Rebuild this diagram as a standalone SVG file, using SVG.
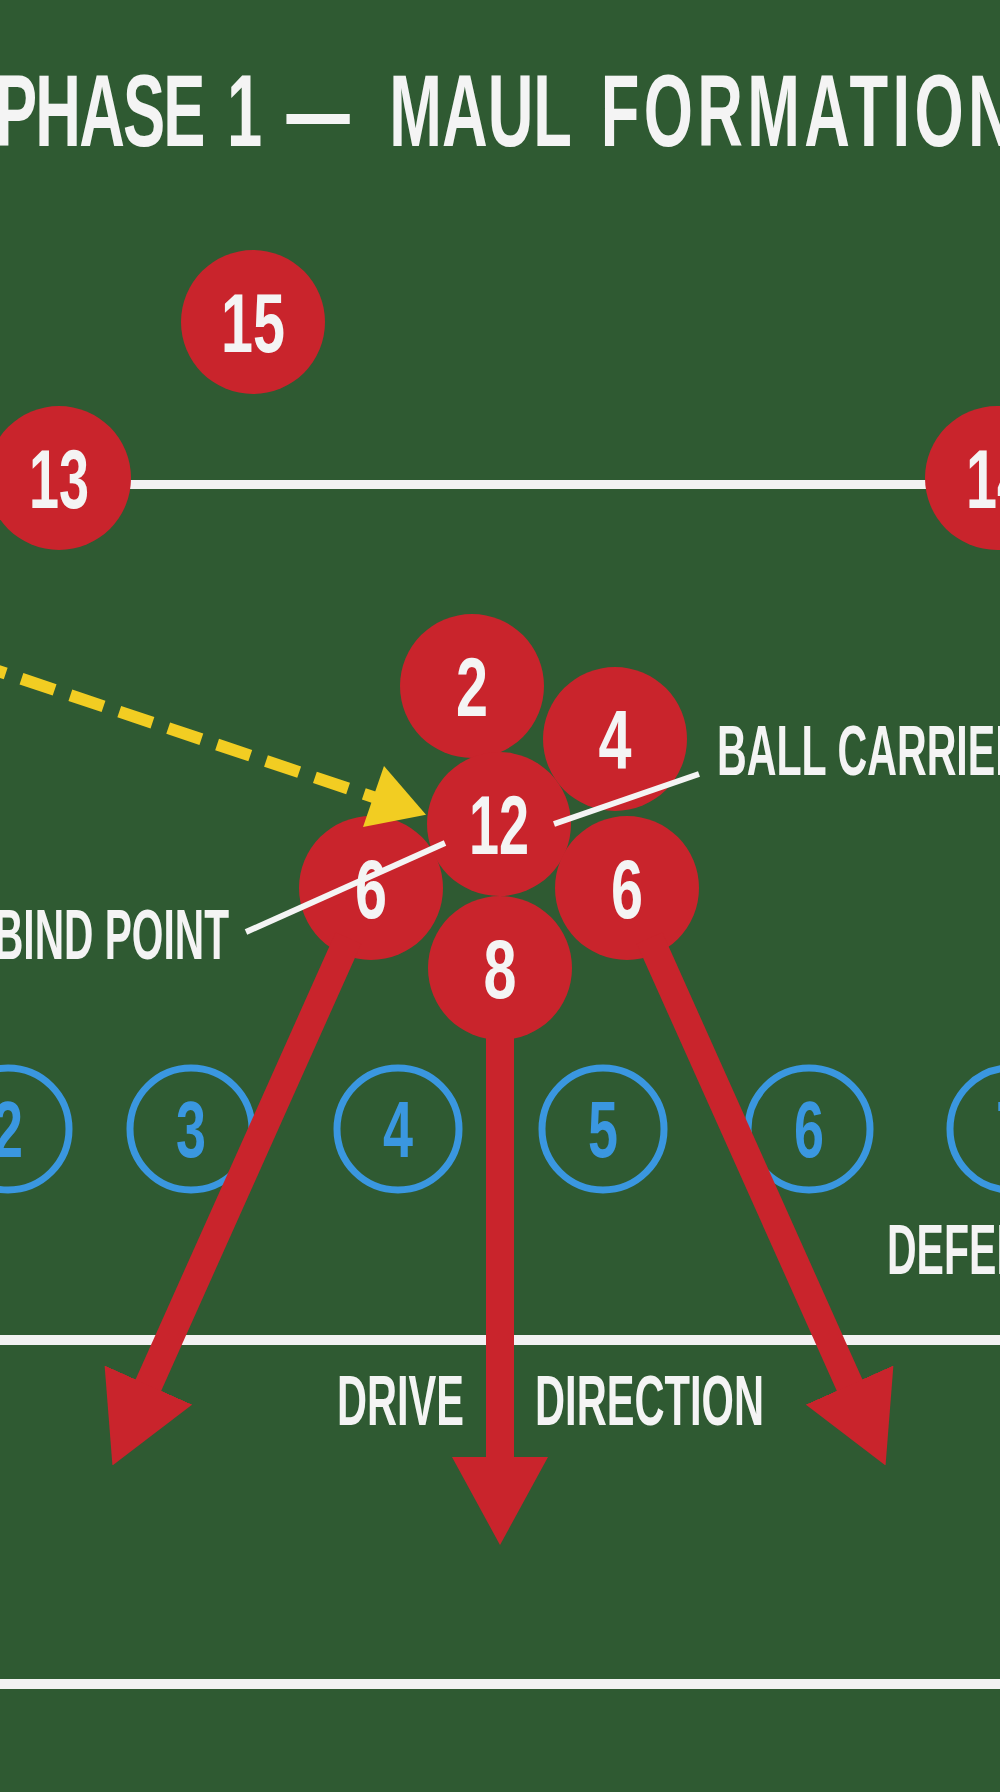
<svg xmlns="http://www.w3.org/2000/svg" width="1000" height="1792" viewBox="0 0 1000 1792">
<defs>
<style>
.t{font-family:"Liberation Sans",Arial,sans-serif;font-weight:bold;fill:#f4f4f4}
.num{font-family:"Liberation Sans",Arial,sans-serif;font-weight:bold;font-size:84px;fill:#f4f4f4;text-anchor:middle}
.dnum{font-family:"Liberation Sans",Arial,sans-serif;font-weight:bold;font-size:80px;fill:#3a97e0;text-anchor:middle}
.pl{fill:#c9242c}
.df{fill:none;stroke:#3a97e0;stroke-width:7}
.field{stroke:#f2f2f2;fill:none}
.drive{stroke:#c9242c;stroke-width:28;fill:none;marker-end:url(#rh)}
.lead{stroke:#f4f4f4;stroke-width:6;fill:none}
.lbl{font-size:70px}
</style>
<marker id="rh" markerUnits="userSpaceOnUse" markerWidth="88" markerHeight="96" viewBox="0 0 88 96" refX="1" refY="48" orient="auto">
<path d="M0,0 L88,48 L0,96 Z" fill="#c9242c"/>
</marker>
</defs>
<rect x="0" y="0" width="1000" height="1792" fill="#2f5a32"/>
<g id="field-lines">
<line class="field" x1="0" y1="484.5" x2="1000" y2="484.5" stroke-width="9"/>
<line class="field" x1="0" y1="1340" x2="1000" y2="1340" stroke-width="10"/>
<line class="field" x1="0" y1="1684" x2="1000" y2="1684" stroke-width="10"/>
</g>
<g id="defence">
<g id="def-2"><circle class="df" cx="8" cy="1129" r="61"/><text class="dnum" x="8" y="1157" textLength="30" lengthAdjust="spacingAndGlyphs">2</text></g>
<g id="def-3"><circle class="df" cx="191" cy="1129" r="61"/><text class="dnum" x="191" y="1157" textLength="30" lengthAdjust="spacingAndGlyphs">3</text></g>
<g id="def-4"><circle class="df" cx="398" cy="1129" r="61"/><text class="dnum" x="398" y="1157" textLength="30" lengthAdjust="spacingAndGlyphs">4</text></g>
<g id="def-5"><circle class="df" cx="603" cy="1129" r="61"/><text class="dnum" x="603" y="1157" textLength="30" lengthAdjust="spacingAndGlyphs">5</text></g>
<g id="def-6"><circle class="df" cx="809" cy="1129" r="61"/><text class="dnum" x="809" y="1157" textLength="30" lengthAdjust="spacingAndGlyphs">6</text></g>
<g id="def-7"><circle class="df" cx="1011" cy="1129" r="61"/><text class="dnum" x="1011" y="1157" textLength="30" lengthAdjust="spacingAndGlyphs">7</text></g>
</g>
<g id="attack">
<g id="p15"><circle class="pl" cx="253" cy="322" r="72"/><text class="num" x="253" y="352" textLength="64" lengthAdjust="spacingAndGlyphs">15</text></g>
<g id="p13"><circle class="pl" cx="59" cy="478" r="72"/><text class="num" x="59" y="508" textLength="60" lengthAdjust="spacingAndGlyphs">13</text></g>
<g id="p14"><circle class="pl" cx="997" cy="478" r="72"/><text class="num" x="997" y="508" textLength="62" lengthAdjust="spacingAndGlyphs">14</text></g>
<g id="p2"><circle class="pl" cx="472" cy="686" r="72"/><text class="num" x="472" y="716" textLength="32" lengthAdjust="spacingAndGlyphs">2</text></g>
<g id="p4"><circle class="pl" cx="615" cy="739" r="72"/><text class="num" x="615" y="769" textLength="33" lengthAdjust="spacingAndGlyphs">4</text></g>
<g id="p12"><circle class="pl" cx="499" cy="824" r="72"/><text class="num" x="499" y="854" textLength="60" lengthAdjust="spacingAndGlyphs">12</text></g>
<g id="p6-left"><circle class="pl" cx="371" cy="888" r="72"/><text class="num" x="371" y="918" textLength="32" lengthAdjust="spacingAndGlyphs">6</text></g>
<g id="p6-right"><circle class="pl" cx="627" cy="888" r="72"/><text class="num" x="627" y="918" textLength="32" lengthAdjust="spacingAndGlyphs">6</text></g>
<g id="p8"><circle class="pl" cx="500" cy="968" r="72"/><text class="num" x="500" y="998" textLength="33" lengthAdjust="spacingAndGlyphs">8</text></g>
</g>
<g id="connectors">
<path class="drive" d="M348.5,938 L148,1386"/>
<path class="drive" d="M500,1020 L500,1458"/>
<path class="drive" d="M649.5,938 L850,1386"/>
<line class="lead" x1="699" y1="774" x2="554" y2="824"/>
<line class="lead" x1="246" y1="932" x2="445" y2="843"/>
<path d="M397,805 L-60,651.4" fill="none" stroke="#f2cd22" stroke-width="12" stroke-dasharray="35 16.6"/>
<polygon points="426,814.7 384,766 363,827" fill="#f2cd22"/>
</g>
<g id="labels">
<text class="t lbl" x="717" y="775" textLength="308" lengthAdjust="spacingAndGlyphs">BALL CARRIER</text>
<text class="t lbl" x="-6" y="959" textLength="235" lengthAdjust="spacingAndGlyphs">BIND POINT</text>
<text class="t lbl" x="887" y="1274" textLength="196" lengthAdjust="spacingAndGlyphs">DEFENCE</text>
<text class="t lbl" x="337" y="1425" textLength="127" lengthAdjust="spacingAndGlyphs">DRIVE</text>
<text class="t lbl" x="535" y="1425" textLength="229" lengthAdjust="spacingAndGlyphs">DIRECTION</text>
</g>
<g id="title">
<text class="t" font-size="102" y="146" transform="scale(0.62,1)"><tspan x="-8" letter-spacing="-3">PHASE</tspan><tspan x="366">1</tspan><tspan x="462">—</tspan><tspan x="628">MAUL</tspan><tspan x="969" letter-spacing="7">FORMATION</tspan></text>
</g>
</svg>
